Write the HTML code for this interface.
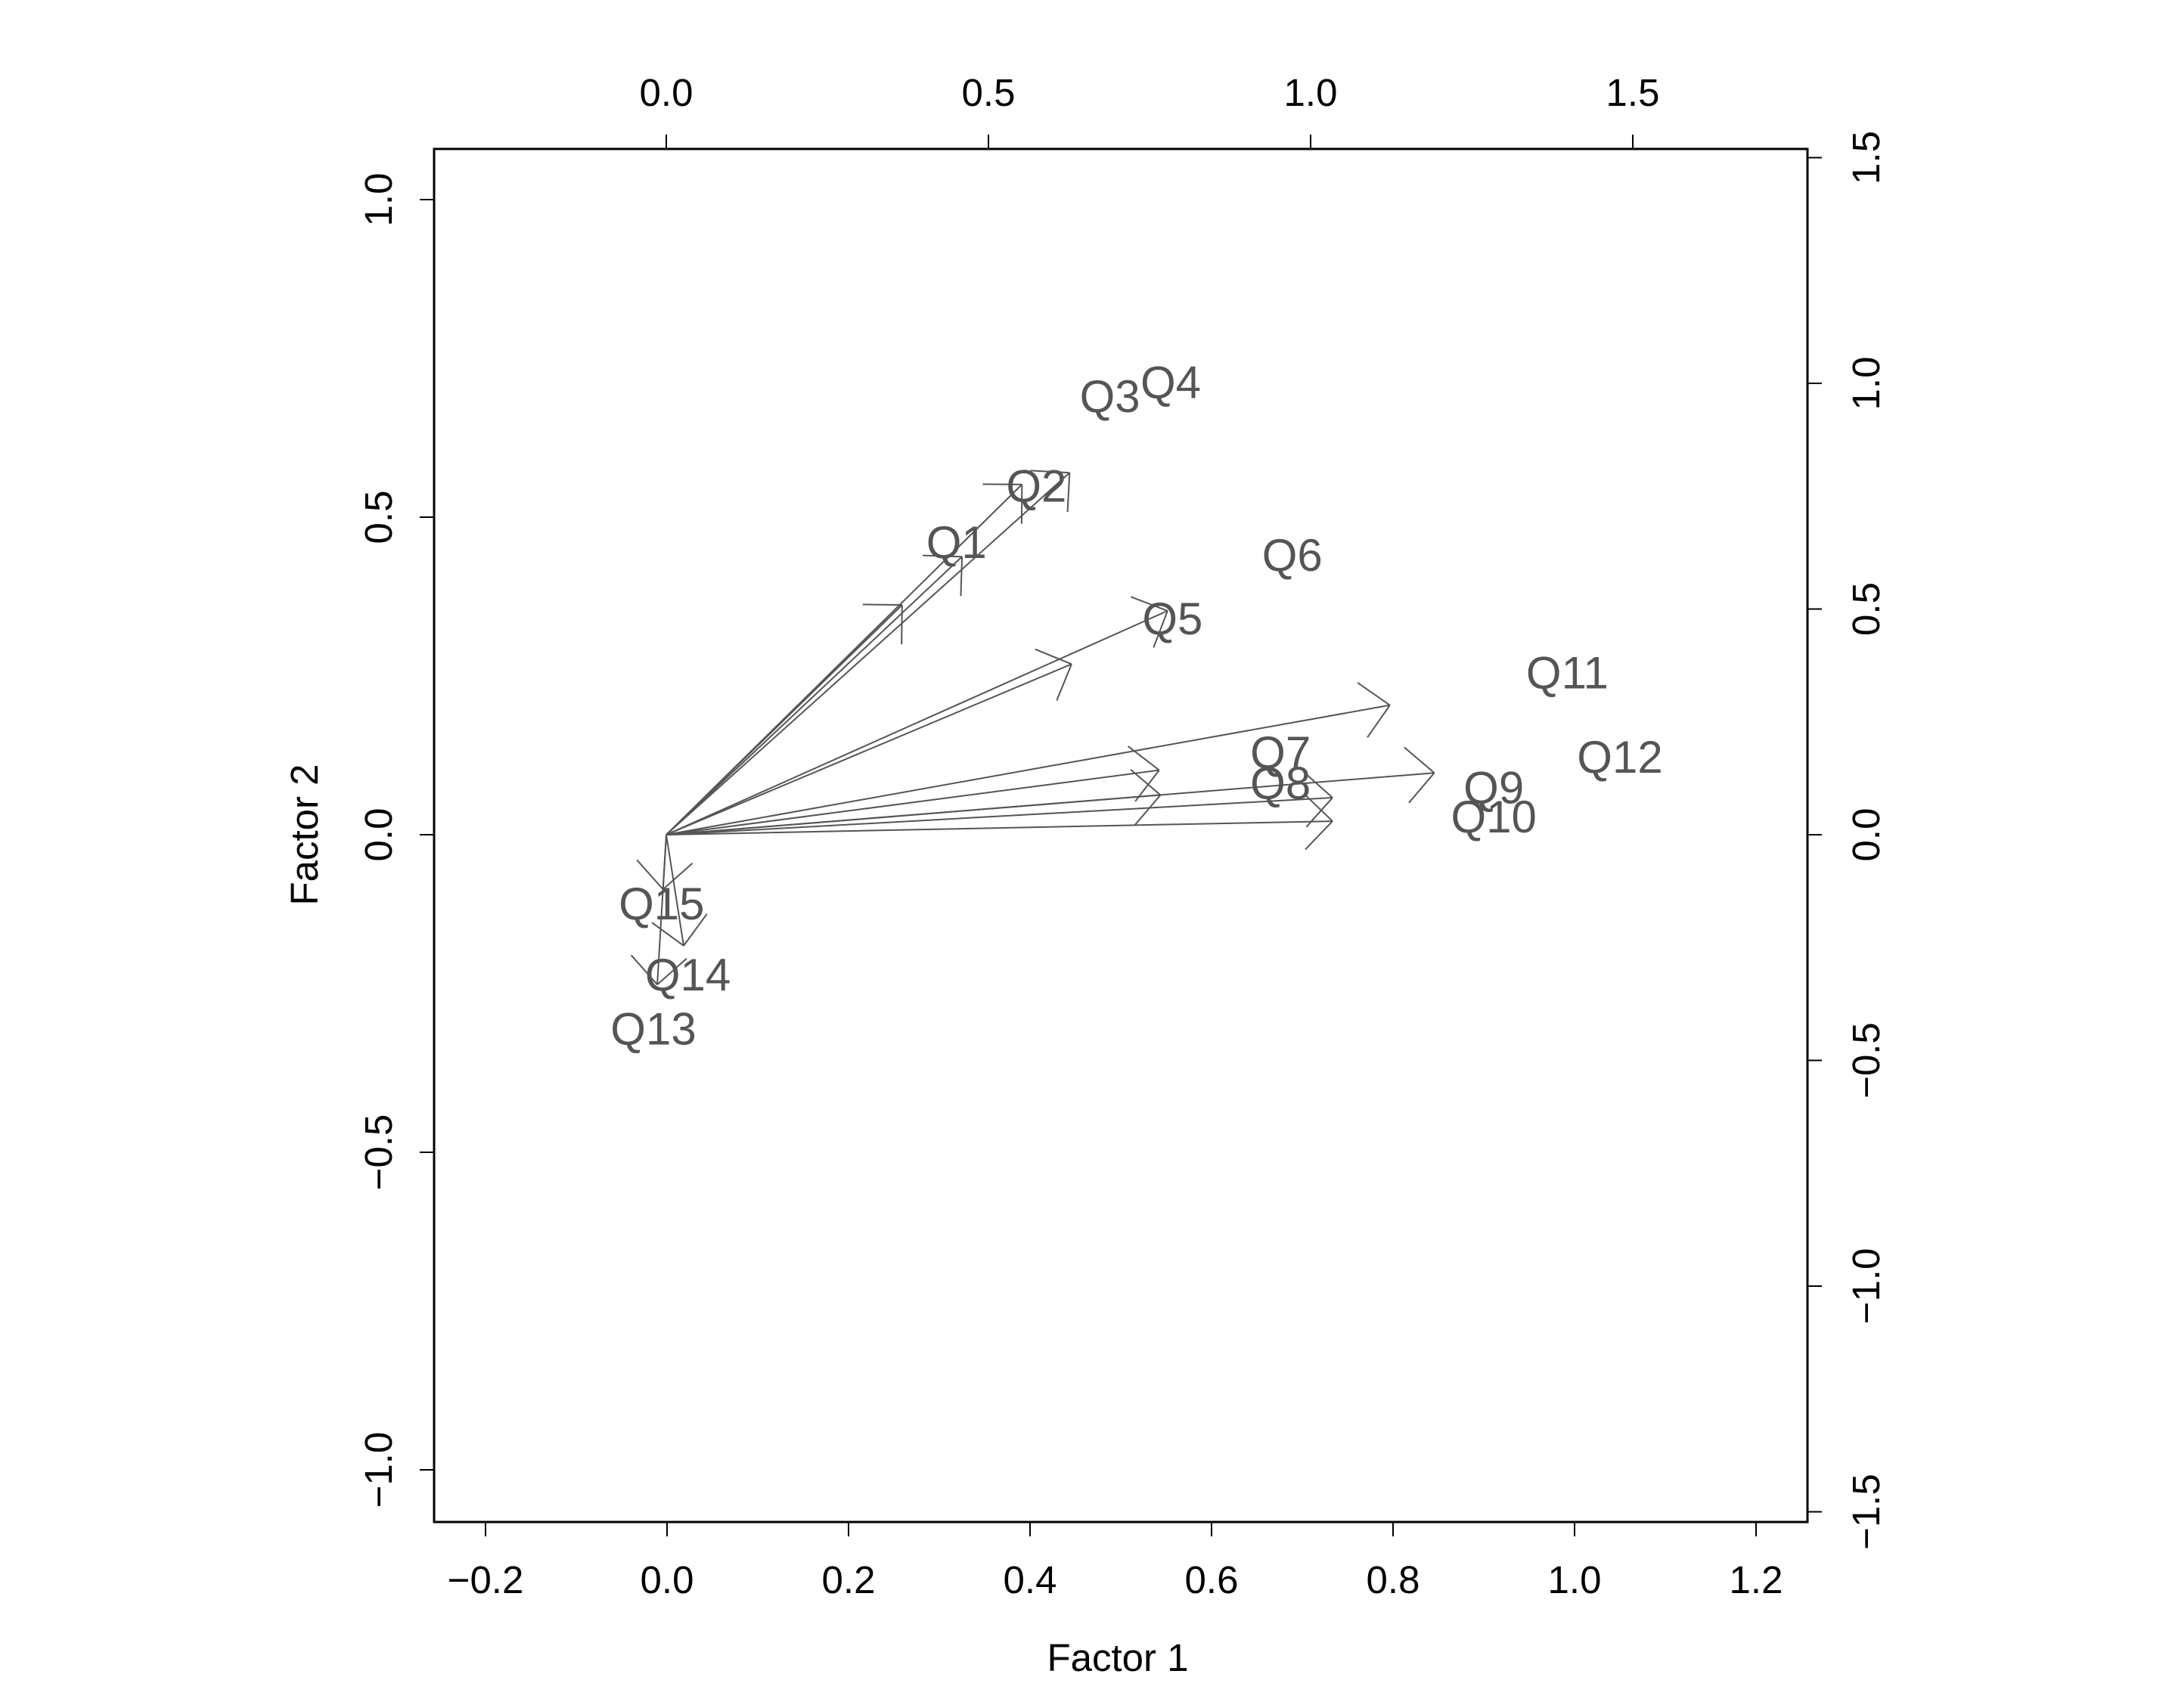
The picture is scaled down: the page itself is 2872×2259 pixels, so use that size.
<!DOCTYPE html>
<html><head><meta charset="utf-8"><style>
html,body{margin:0;padding:0;background:#fff}
svg{display:block}
text{font-family:"Liberation Sans",Arial,sans-serif}
</style></head><body>
<svg id="chart" width="2872" height="2259" viewBox="0 0 2872 2259" xmlns="http://www.w3.org/2000/svg"></svg>
<script>
// Data
const labels = ["Q1","Q2","Q3","Q4","Q5","Q6","Q7","Q8","Q9","Q10","Q11","Q12","Q13","Q14","Q15"];
const scoreX = [0.319,0.407,0.488,0.555,0.557,0.689,0.676,0.676,0.911,0.911,0.992,1.050,-0.015,0.023,-0.006];
const scoreY = [0.460,0.549,0.690,0.712,0.340,0.440,0.129,0.081,0.074,0.028,0.255,0.122,-0.306,-0.221,-0.109];
const loadX = [0.366,0.459,0.552,0.626,0.629,0.778,0.765,0.767,1.123,1.192,1.034,1.034,0.027,-0.014,-0.005];
const loadY = [0.509,0.616,0.776,0.802,0.378,0.496,0.143,0.088,0.287,0.137,0.082,0.030,-0.246,-0.332,-0.121];
const bottomTicks = [-0.2,0,0.2,0.4,0.6,0.8,1.0,1.2];
const leftTicks = [-1.0,-0.5,0,0.5,1.0];
const topTicks = [0,0.5,1.0,1.5];
const rightTicks = [-1.5,-1.0,-0.5,0,0.5,1.0,1.5];

const NS="http://www.w3.org/2000/svg";
const svg=document.getElementById('chart');
const box={l:574,r:2390,t:197,b:2013};
const xB=v=>882+v*1200, yL=v=>1104-v*840;
const xT=v=>881+v*852, yR=v=>1104-v*597;
function el(tag,attrs,parent){const e=document.createElementNS(NS,tag);for(const k in attrs)e.setAttribute(k,attrs[k]);(parent||svg).appendChild(e);return e;}
function fmt(v){const s=v.toFixed(1);return s.replace('-','\u2212');}

const frame=el('rect',{x:box.l,y:box.t,width:box.r-box.l,height:box.b-box.t,fill:'none',stroke:'#000','stroke-width':3});



const axB=el('g',{});


bottomTicks.forEach(v=>{const x=xB(v);
 el('line',{x1:x,x2:x,y1:box.b,y2:box.b+19,stroke:'#000','stroke-width':2},axB);
 const t=el('text',{x:x,y:2107,'font-size':51,'text-anchor':'middle',fill:'#000'},axB);t.textContent=fmt(v);
 
 });
const axT=el('g',{});


topTicks.forEach(v=>{const x=xT(v);
 el('line',{x1:x,x2:x,y1:box.t,y2:box.t-19,stroke:'#000','stroke-width':2},axT);
 const t=el('text',{x:x,y:140,'font-size':51,'text-anchor':'middle',fill:'#000'},axT);t.textContent=fmt(v);
 
 });
const axL=el('g',{});


leftTicks.forEach(v=>{const y=yL(v);
 el('line',{x1:box.l,x2:box.l-19,y1:y,y2:y,stroke:'#000','stroke-width':2},axL);
 const t=el('text',{x:518,y:y,'font-size':51,'text-anchor':'middle',fill:'#000',transform:`rotate(-90 518 ${y})`},axL);t.textContent=fmt(v);
 
 });
const axR=el('g',{});


rightTicks.forEach(v=>{const y=yR(v);
 el('line',{x1:box.r,x2:box.r+19,y1:y,y2:y,stroke:'#000','stroke-width':2},axR);
 const t=el('text',{x:2485,y:y,'font-size':51,'text-anchor':'middle',fill:'#000',transform:`rotate(-90 2485 ${y})`},axR);t.textContent=fmt(v);
 
 });

const xt=el('text',{x:1478,y:2210,'font-size':51,'text-anchor':'middle',fill:'#000'});xt.textContent='Factor 1';


const yt=el('text',{x:420,y:1104,'font-size':51,'text-anchor':'middle',fill:'#000',transform:'rotate(-90 420 1104)'});yt.textContent='Factor 2';



// arrows
const ox=xT(0), oy=yR(0), HL=52, HA=Math.PI/4;
labels.forEach((lab,i)=>{
 const g=el('g',{stroke:'#555','stroke-width':2,fill:'none'});
 
 
 const tx=xT(loadX[i]), ty=yR(loadY[i]);
 el('line',{x1:ox,y1:oy,x2:tx,y2:ty},g);
 const ang=Math.atan2(ty-oy,tx-ox);
 [ang+Math.PI-HA, ang+Math.PI+HA].forEach(a=>{
  el('line',{x1:tx,y1:ty,x2:tx+HL*Math.cos(a),y2:ty+HL*Math.sin(a)},g);});
});
labels.forEach((lab,i)=>{
 const t=el('text',{x:xB(scoreX[i]),y:yL(scoreY[i]),'font-size':60,'text-anchor':'middle','dominant-baseline':'central',fill:'#555'});
 t.textContent=lab;
 
 
});
</script>
</body></html>
